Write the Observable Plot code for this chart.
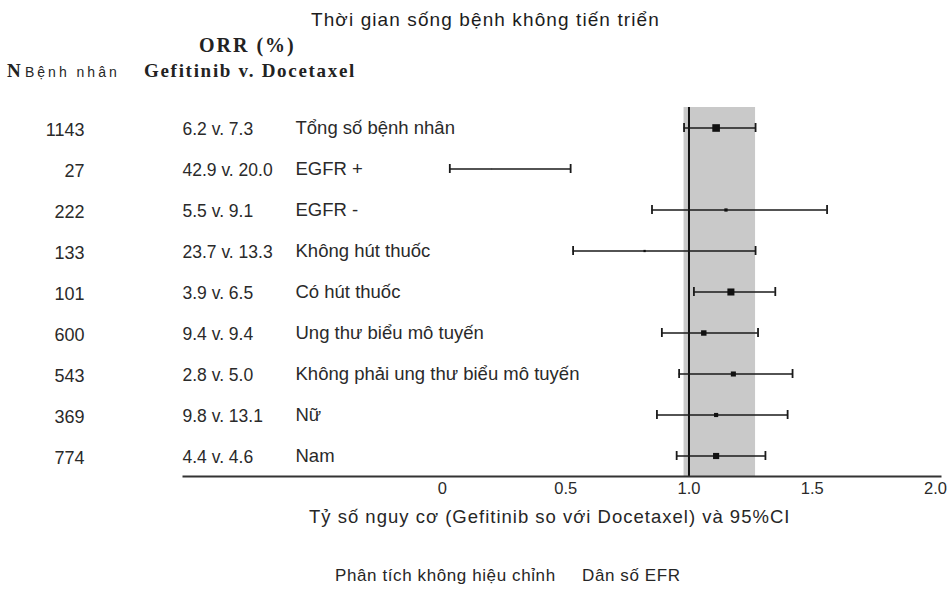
<!DOCTYPE html>
<html><head><meta charset="utf-8">
<script src="https://cdn.jsdelivr.net/npm/d3@7"></script>
<script src="https://cdn.jsdelivr.net/npm/@observablehq/plot@0.6"></script>
<style>
body{margin:0;background:#fff;}
#wrap{position:relative;width:948px;height:590px;font-family:"Liberation Sans",Arial,sans-serif;color:#262626;overflow:hidden;}
#wrap svg{position:absolute;left:0;top:0;}
.t{position:absolute;white-space:nowrap;line-height:1;}
.serif{font-family:"Liberation Serif","Times New Roman",serif;font-weight:bold;color:#222;}
</style></head><body>
<div id="wrap">
  <div class="t" style="left:311px;top:10px;font-size:19px;letter-spacing:1.1px;color:#1c1c1c;">Thời gian sống bệnh không tiến triển</div>
  <div class="t serif" style="left:199px;top:35px;font-size:20px;letter-spacing:2px;">ORR (%)</div>
  <div class="t serif" style="left:7px;top:61px;font-size:19px;">N</div>
  <div class="t" style="left:25px;top:65px;font-size:14px;letter-spacing:3px;">Bệnh nhân</div>
  <div class="t serif" style="left:144px;top:61px;font-size:19px;letter-spacing:1.7px;">Gefitinib v. Docetaxel</div>
  <div class="t" style="left:309px;top:508px;font-size:18.5px;letter-spacing:1px;">Tỷ số nguy cơ (Gefitinib so với Docetaxel) và 95%CI</div>
  <div class="t" style="left:335px;top:567px;font-size:17px;letter-spacing:0.6px;">Phân tích không hiệu chỉnh</div>
  <div class="t" style="left:582px;top:567px;font-size:17px;letter-spacing:0.6px;">Dân số EFR</div>
</div>
<script>
const subgroups = ["Tổng số bệnh nhân","EGFR +","EGFR -","Không hút thuốc","Có hút thuốc","Ung thư biểu mô tuyến","Không phải ung thư biểu mô tuyến","Nữ","Nam"];
const nPatients = [1143, 27, 222, 133, 101, 600, 543, 369, 774];
const orrText = ["6.2 v. 7.3","42.9 v. 20.0","5.5 v. 9.1","23.7 v. 13.3","3.9 v. 6.5","9.4 v. 9.4","2.8 v. 5.0","9.8 v. 13.1","4.4 v. 4.6"];
const hrPoint = [1.11, 0.20, 1.15, 0.82, 1.17, 1.06, 1.18, 1.11, 1.11];
const hrLow   = [0.98, 0.03, 0.85, 0.53, 1.02, 0.89, 0.96, 0.87, 0.95];
const hrHigh  = [1.27, 0.52, 1.56, 1.27, 1.35, 1.28, 1.42, 1.40, 1.31];
const refValue = [1];
const xTicks = [0, 0.5, 1, 1.5, 2];

// inverse-variance weight for marker size (standard forest-plot convention)
const rows = subgroups.map((g, i) => {
  const se = (Math.log(hrHigh[i]) - Math.log(hrLow[i])) / 3.92;
  return {group: g, n: nPatients[i], orr: orrText[i], hr: hrPoint[i], lo: hrLow[i], hi: hrHigh[i], w: 1 / (se * se)};
});
const overall = [rows[0]];
const maxW = d3.max(rows, d => d.w);

const chart = Plot.plot({
  width: 948,
  height: 590,
  marginLeft: 183,
  marginRight: 8,
  marginTop: 107,
  marginBottom: 114,
  style: {fontFamily: '"Liberation Sans", Arial, sans-serif', fontSize: "16.5px", color: "#2a2a2a", background: "transparent"},
  x: {domain: [-1.05, 2.02], ticks: xTicks, tickFormat: d => d === 0 ? "0" : d.toFixed(1), tickSize: 0, tickPadding: 6, label: null},
  y: {type: "band", domain: subgroups, padding: 0, axis: null},
  r: {type: "sqrt", domain: [0, maxW], range: [0, 4.3]},
  marks: [
    Plot.rect(overall, {x1: "lo", x2: "hi", fill: "#c9c9c9"}),
    Plot.ruleX(refValue, {stroke: "#111", strokeWidth: 2}),
    Plot.frame({anchor: "bottom", stroke: "#333", strokeWidth: 2}),
    Plot.ruleY(rows, {y: "group", x1: "lo", x2: "hi", stroke: "#1a1a1a", strokeWidth: 1.7}),
    Plot.tickX(rows, {y: "group", x: "lo", stroke: "#1a1a1a", strokeWidth: 1.8, insetTop: 16, insetBottom: 16}),
    Plot.tickX(rows, {y: "group", x: "hi", stroke: "#1a1a1a", strokeWidth: 1.8, insetTop: 16, insetBottom: 16}),
    Plot.dot(rows, {y: "group", x: "hr", r: "w", symbol: "square", fill: "#111", stroke: "none"}),
    Plot.text(rows, {y: "group", text: d => String(d.n), frameAnchor: "left", dx: -99, textAnchor: "end", fontSize: 18, letterSpacing: 1.8, dy: 2}),
    Plot.text(rows, {y: "group", text: "orr", frameAnchor: "left", dx: -1, textAnchor: "start", fontSize: 17.5, letterSpacing: 0.3, dy: 1}),
    Plot.text(rows, {y: "group", text: "group", frameAnchor: "left", dx: 112, textAnchor: "start", fontSize: 18.5, letterSpacing: 1.5, dy: 0})
  ]
});
document.getElementById("wrap").prepend(chart);
</script>
</body></html>
